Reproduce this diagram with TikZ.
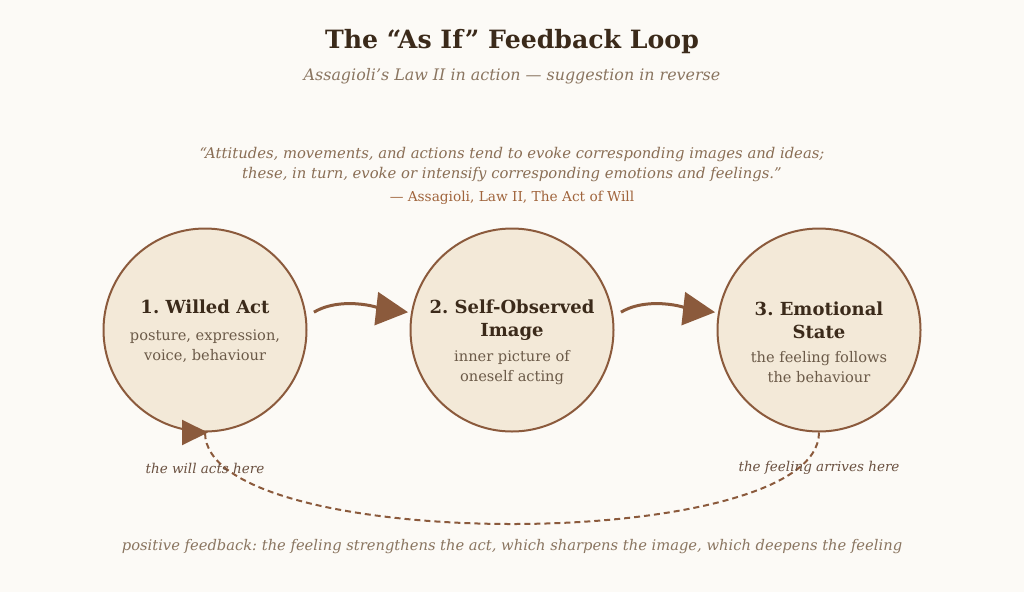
\documentclass[tikz,border=0pt]{standalone}
\usepackage{fontspec}
\setmainfont{DejaVu Serif}
\usetikzlibrary{positioning,arrows.meta}
\frenchspacing
\definecolor{paper}{HTML}{FCFAF6}
\definecolor{cream}{HTML}{F3E9D8}
\definecolor{rust}{HTML}{8B5A3C}
\definecolor{darkbrown}{HTML}{3B2A1A}
\definecolor{mutedbrown}{HTML}{8A7560}
\definecolor{quotebrown}{HTML}{8A6E55}
\definecolor{citebrown}{HTML}{A0643C}
\definecolor{textbrown}{HTML}{6B5A48}
\definecolor{notebrown}{HTML}{6A5040}

\begin{document}
\begin{tikzpicture}[
    x=1pt, y=-1pt,
    stage/.style={
        circle, draw=rust, fill=cream,
        line width=2pt, minimum size=203pt, inner sep=0pt
    },
    stagetitle/.style={
        font=\fontsize{18}{23}\selectfont\bfseries,
        text=darkbrown, align=center, inner sep=0pt
    },
    stagenote/.style={
        font=\fontsize{14.6}{20}\selectfont,
        text=textbrown, align=center, inner sep=0pt
    },
    hint/.style={
        font=\fontsize{13.5}{15}\selectfont\itshape,
        text=notebrown, inner sep=0pt
    },
    arrow/.style={-{Triangle[length=32pt,width=33pt]}, line width=3pt, rust},
    feedback/.style={-{Triangle[length=26pt,width=25pt]}, line width=2pt, rust,
        dash pattern=on 6pt off 4pt}
]
\fill[paper] (0,0) rectangle (1024,592);
\useasboundingbox (0,0) rectangle (1024,592);

% heading
\node[font=\fontsize{25.2}{30}\selectfont\bfseries, text=darkbrown] (title) at (512,42)
    {The “As If” Feedback Loop};
\node[font=\fontsize{15.9}{18}\selectfont\itshape, text=mutedbrown] (subtitle) at (512,76)
    {Assagioli’s Law II in action — suggestion in reverse};

% quotation
\node[font=\fontsize{14.8}{20}\selectfont\itshape, text=quotebrown, align=center] (quote) at (512,165)
    {“Attitudes, movements, and actions tend to evoke corresponding images and ideas;\\
     these, in turn, evoke or intensify corresponding emotions and feelings.”};
\node[font=\fontsize{13.7}{15}\selectfont, text=citebrown] (cite) at (512,198)
    {— Assagioli, Law II, The Act of Will};

% the three stages
\node[stage] (act) at (205,330) {};
\node[stage] (image) at (512,330) {};
\node[stage] (emotion) at (819,330) {};

\node[stagetitle] (acttitle) at (205,307) {1. Willed Act};
\node[stagenote] (actnote) at (205,346) {posture, expression,\\voice, behaviour};

\node[stagetitle] (imagetitle) at (512,320) {2. Self-Observed\\Image};
\node[stagenote] (imagenote) at (512,367.5) {inner picture of\\oneself acting};

\node[stagetitle] (emotiontitle) at (819,320) {3. Emotional\\State};
\node[stagenote] (emotionnote) at (819,367.5) {the feeling follows\\the behaviour};

% forward arrows
\draw[arrow] ([xshift=8pt]act.10) .. controls +(30,-18) and +(-18,-2) .. ([xshift=-3pt]image.170);
\draw[arrow] ([xshift=8pt]image.10) .. controls +(30,-18) and +(-18,-2) .. ([xshift=-3pt]emotion.170);

% feedback loop
\draw[feedback] (emotion.south) .. controls +(0,122) and +(0,122) .. (act.south) -- ++(3,0);

\node[hint] (willhint) at (205,468) {the will acts here};
\node[hint] (feelhint) at (819,468) {the feeling arrives here};

\node[font=\fontsize{14.7}{18}\selectfont\itshape, text=mutedbrown] (caption) at (512,547)
    {positive feedback: the feeling strengthens the act, which sharpens the image, which deepens the feeling};
\end{tikzpicture}
\end{document}
